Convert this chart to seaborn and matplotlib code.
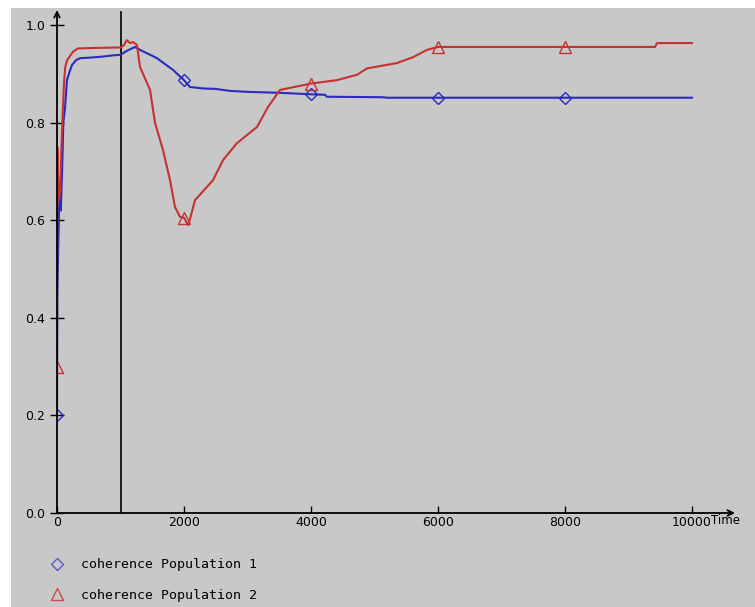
import matplotlib
matplotlib.use("Agg")
import matplotlib.pyplot as plt
from matplotlib.lines import Line2D
from matplotlib.patches import Rectangle
import numpy as np
import pandas as pd
import seaborn as sns

# Simulation output: coherence of two populations over time
time_pop1 = [0, 5, 20, 40, 60, 80, 100, 126, 157, 200, 236, 300, 362, 500, 700, 900,
             1000, 1100, 1228, 1307, 1450, 1575, 1700, 1827, 1950, 2000, 2094, 2300,
             2500, 2724, 3000, 3512, 4000, 4220, 4250, 5134, 5200, 6000, 8000, 10000]
coh_pop1 = [0.20, 0.45, 0.55, 0.66, 0.62, 0.70, 0.80, 0.83, 0.887, 0.905, 0.918, 0.928,
            0.932, 0.933, 0.935, 0.938, 0.939, 0.947, 0.955, 0.949, 0.940, 0.932, 0.920,
            0.908, 0.893, 0.887, 0.873, 0.870, 0.869, 0.865, 0.863, 0.861, 0.858, 0.857,
            0.853, 0.852, 0.851, 0.851, 0.851, 0.851]

time_pop2 = [0, 5, 15, 30, 50, 70, 90, 110, 130, 160, 250, 330, 600, 1000, 1050, 1100,
             1150, 1200, 1260, 1307, 1465, 1543, 1669, 1780, 1858, 1937, 2000, 2063,
             2100, 2173, 2457, 2614, 2835, 3150, 3323, 3512, 3700, 4000, 4409, 4724,
             4882, 5354, 5606, 5827, 6000, 8000, 9417, 9450, 10000]
coh_pop2 = [0.30, 0.75, 0.70, 0.64, 0.66, 0.75, 0.82, 0.88, 0.914, 0.928, 0.945, 0.952,
            0.953, 0.954, 0.958, 0.969, 0.963, 0.965, 0.959, 0.914, 0.867, 0.800, 0.744,
            0.682, 0.627, 0.607, 0.605, 0.590, 0.605, 0.641, 0.682, 0.723, 0.758, 0.791,
            0.832, 0.867, 0.872, 0.880, 0.887, 0.898, 0.911, 0.922, 0.934, 0.949, 0.955,
            0.955, 0.955, 0.963, 0.963]

marker_times = [0, 2000, 4000, 6000, 8000]
x_ticks = [0, 2000, 4000, 6000, 8000, 10000]
y_ticks = [0.0, 0.2, 0.4, 0.6, 0.8, 1.0]
series_labels = ["coherence Population 1", "coherence Population 2"]
event_time = 1000

BG = "#c8c8c8"
BLUE = "#2a2abe"
RED = "#c43232"

plt.rcParams["font.family"] = ["DejaVu Sans"]

W, H = 755, 607
fig = plt.figure(figsize=(W / 100, H / 100), dpi=100, facecolor="white")
fig.patches.append(Rectangle((11 / W, 0), 1, (H - 8) / H, transform=fig.transFigure,
                             facecolor=BG, edgecolor="none", zorder=-10))

ax = fig.add_axes([57 / W, (H - 513) / H, (735 - 57) / W, (513 - 10) / H])
ax.set_zorder(1)
ax.patch.set_alpha(0)

df1 = pd.DataFrame({"Time": time_pop1, "coherence": coh_pop1})
df2 = pd.DataFrame({"Time": time_pop2, "coherence": coh_pop2})
mk1 = [time_pop1.index(t) for t in marker_times]
mk2 = [time_pop2.index(t) for t in marker_times]

sns.lineplot(data=df1, x="Time", y="coherence", ax=ax, color=BLUE, lw=1.5,
             estimator=None, sort=False, marker="D", markersize=6.5,
             markerfacecolor="none", markeredgecolor=BLUE, markeredgewidth=1.0,
             markevery=mk1, zorder=3)
sns.lineplot(data=df2, x="Time", y="coherence", ax=ax, color=RED, lw=1.5,
             estimator=None, sort=False, marker="^", markersize=8,
             markerfacecolor="none", markeredgecolor=RED, markeredgewidth=1.0,
             markevery=mk2, zorder=3)

ax.set_xlim(0, 678 / 0.0635)
ax.set_ylim(0, 503 / 488)
ax.axvline(event_time, ymax=0.996, color="black", lw=1.2, zorder=2)

for s in ax.spines.values():
    s.set_visible(False)
ax.annotate("", xy=(1, 0), xytext=(0, 0), xycoords="axes fraction",
            arrowprops=dict(arrowstyle="->", lw=1.3, color="black",
                            shrinkA=0, shrinkB=0), zorder=4)
ax.annotate("", xy=(0, 1), xytext=(0, 0), xycoords="axes fraction",
            arrowprops=dict(arrowstyle="->", lw=1.3, color="black",
                            shrinkA=0, shrinkB=0), zorder=4)

ax.set_xticks(x_ticks)
ax.set_xticklabels([str(t) for t in x_ticks])
ax.set_yticks(y_ticks)
ax.set_yticklabels([f"{v:.1f}" for v in y_ticks])
ax.tick_params(axis="x", direction="in", length=5, width=1, pad=2, labelsize=9)
ax.tick_params(axis="y", direction="inout", length=10, width=1, pad=3.5, labelsize=9)
ax.set_xlabel("")
ax.set_ylabel("")
ax.grid(False)

fig.text(711 / W, 1 - 521 / H, "Time", fontsize=8.5, va="center", ha="left")

handles = [
    Line2D([], [], ls="none", marker="D", markersize=6.5, markerfacecolor="none",
           markeredgecolor="#5a5acc", markeredgewidth=1.0),
    Line2D([], [], ls="none", marker="^", markersize=8, markerfacecolor="none",
           markeredgecolor="#cc4a4a", markeredgewidth=1.0),
]
fig.legend(handles, series_labels, loc="center left",
           bbox_to_anchor=(48 / W, 1 - 580 / H), frameon=False,
           prop={"family": "DejaVu Sans Mono", "size": 9.5},
           handlelength=1.3, handletextpad=1.2, labelspacing=1.3, borderpad=0,
           borderaxespad=0)

fig.savefig("out.png", dpi=100, facecolor="white")
